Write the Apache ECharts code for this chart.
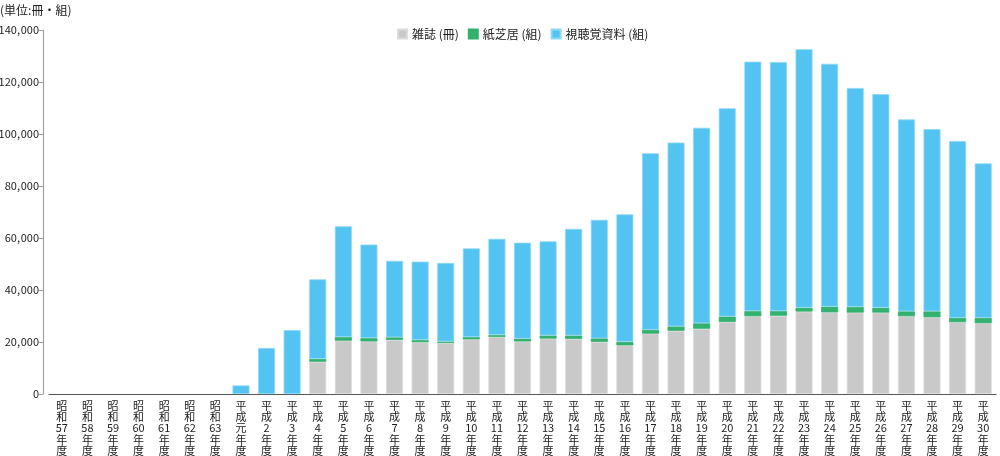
<!DOCTYPE html>
<html><head><meta charset="utf-8">
<script src="https://cdn.jsdelivr.net/npm/echarts@6/dist/echarts.min.js"></script>
<style>html,body{margin:0;padding:0;background:#fff}#c{width:1000px;height:456px}</style>
</head><body><div id="c"></div>
<script>
const categories = ['昭和57年度','昭和58年度','昭和59年度','昭和60年度','昭和61年度','昭和62年度','昭和63年度',
 '平成元年度','平成2年度','平成3年度','平成4年度','平成5年度','平成6年度','平成7年度','平成8年度','平成9年度','平成10年度',
 '平成11年度','平成12年度','平成13年度','平成14年度','平成15年度','平成16年度','平成17年度','平成18年度','平成19年度','平成20年度',
 '平成21年度','平成22年度','平成23年度','平成24年度','平成25年度','平成26年度','平成27年度','平成28年度','平成29年度','平成30年度'];
const magazines = [null,null,null,null,null,null,null,
 null,null,null,12400,20500,20200,20800,19900,19600,21000,
 21900,20200,21300,21200,20000,18700,23200,24300,25100,27700,
 29900,30100,31700,31400,31300,31300,29900,29500,27600,27200];
const kamishibai = [null,null,null,null,null,null,null,
 null,null,null,1100,1400,1300,1000,900,600,900,
 800,1100,1200,1300,1400,1400,1500,1700,2100,2100,
 2000,1800,1500,2200,2200,1900,1900,2300,1700,2100];
const audiovisual = [null,null,null,null,null,null,null,
 3300,17700,24600,30600,42600,36000,29400,30100,30200,34100,
 37000,36900,36200,41000,45600,49000,67900,70700,75200,80100,
 95900,95800,99400,93400,84200,82100,73800,70100,68000,59400];
const seriesNames = ['雑誌 (冊)','紙芝居 (組)','視聴覚資料 (組)'];
const yTicks = [0,20000,40000,60000,80000,100000,120000,140000];

const FONT = 'Noto Sans CJK JP';
const chart = echarts.init(document.getElementById('c'), null, {renderer:'canvas'});
function bar(name, data, color, border){
  return {name, type:'bar', stack:'total', data, barWidth:17,
    itemStyle:{color, borderColor:border, borderWidth:0.8}, emphasis:{disabled:true}};
}
chart.setOption({
  animation:false,
  textStyle:{fontFamily:FONT},
  title:{text:'(単位:冊・組)', left:-5, top:-1,
    textStyle:{fontSize:12, fontWeight:'normal', color:'#222', fontFamily:FONT}},
  legend:{data:seriesNames, left:392, top:23, itemWidth:9, itemHeight:9, itemGap:9,
    icon:'rect', textStyle:{fontSize:12, color:'#222', fontFamily:FONT}},
  grid:{left:49, right:4, top:30, bottom:62, outerBoundsMode:'none', containLabel:false},
  xAxis:{type:'category', data:categories, boundaryGap:true,
    axisLine:{lineStyle:{color:'#555', width:1.2}}, axisTick:{show:false},
    axisLabel:{interval:0, margin:6, fontSize:11, lineHeight:11.3, color:'#222', fontFamily:FONT,
      verticalAlign:'top',
      formatter:v => v.match(/\d+|./g).join('\n')}},
  yAxis:{type:'value', min:yTicks[0], max:yTicks[yTicks.length-1], interval:yTicks[1]-yTicks[0], offset:6,
    splitLine:{show:false},
    axisLine:{show:true, lineStyle:{color:'#a0a0a0', width:1.2}},
    axisTick:{show:true, length:4, lineStyle:{color:'#a0a0a0'}},
    axisLabel:{margin:4, fontSize:11, color:'#222', fontFamily:FONT,
      formatter:v => v===0 ? '0' : v.toLocaleString('en-US').replace(/,/g, ',\u200a')}},
  series:[
    bar(seriesNames[0], magazines, '#c9c9c9', '#dcdcdc'),
    bar(seriesNames[1], kamishibai, '#33b16e', '#33b16e'),
    bar(seriesNames[2], audiovisual, '#53c3f1', '#8fd8f6')
  ]
});
</script></body></html>
